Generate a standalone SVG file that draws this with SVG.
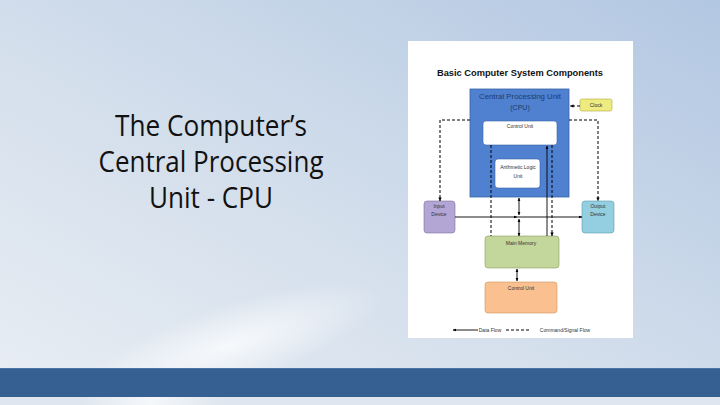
<svg xmlns="http://www.w3.org/2000/svg" width="720" height="405" viewBox="0 0 720 405">
<defs>
<linearGradient id="bg" x1="1" y1="0" x2="0" y2="1">
<stop offset="0" stop-color="#b2c7e2"/>
<stop offset="0.55" stop-color="#d4dfec"/>
<stop offset="1" stop-color="#e9eef4"/>
</linearGradient>
<radialGradient id="glow" cx="0.5" cy="0.5" r="0.5">
<stop offset="0" stop-color="#ffffff" stop-opacity="0.75"/>
<stop offset="1" stop-color="#ffffff" stop-opacity="0"/>
</radialGradient>
<linearGradient id="sweep" x1="0" y1="0" x2="1" y2="0">
<stop offset="0" stop-color="#ffffff" stop-opacity="0"/>
<stop offset="0.5" stop-color="#ffffff" stop-opacity="0.7"/>
<stop offset="1" stop-color="#ffffff" stop-opacity="0"/>
</linearGradient>
<marker id="ah" viewBox="0 0 10 10" refX="9" refY="5" markerWidth="4" markerHeight="4" orient="auto-start-reverse">
<path d="M0,1 L10,5 L0,9 z" fill="#000"/>
</marker>
<style>
.t{font-family:"Liberation Sans",Arial,sans-serif;fill:#333;text-anchor:middle;font-size:5px}
.cpu{font-family:"Liberation Sans",Arial,sans-serif;fill:#1e3a6e;text-anchor:middle;font-size:7px}
.dl{fill:none;stroke:#000;stroke-width:1;stroke-dasharray:3,2}
.sl{fill:none;stroke:#000;stroke-width:0.9}
</style>
</defs>
<rect width="720" height="405" fill="url(#bg)"/>
<ellipse cx="230" cy="345" rx="160" ry="40" transform="rotate(-18 230 345)" fill="url(#glow)"/>
<rect x="0" y="368" width="720" height="29" fill="#366092"/>
<rect x="0" y="368" width="720" height="1" fill="#4a74a6"/>
<rect x="0" y="397" width="720" height="8" fill="#dfe6ef"/>
<rect x="80" y="397" width="140" height="8" fill="url(#sweep)"/>

<g id="title">
<text x="211" y="136" font-family="'Open Sans','Liberation Sans',sans-serif" font-size="29" fill="#111" text-anchor="middle" textLength="192" lengthAdjust="spacingAndGlyphs">The Computer’s</text>
<text x="211" y="172" font-family="'Open Sans','Liberation Sans',sans-serif" font-size="29" fill="#111" text-anchor="middle" textLength="225" lengthAdjust="spacingAndGlyphs">Central Processing</text>
<text x="211" y="208" font-family="'Open Sans','Liberation Sans',sans-serif" font-size="29" fill="#111" text-anchor="middle" textLength="124" lengthAdjust="spacingAndGlyphs">Unit - CPU</text>
</g>

<rect x="408" y="41" width="225" height="297" fill="#ffffff"/>
<text x="520" y="76" font-family="'Liberation Sans',Arial,sans-serif" font-size="9.5" font-weight="bold" fill="#111" text-anchor="middle" textLength="166" lengthAdjust="spacingAndGlyphs">Basic Computer System Components</text>

<g id="cpu">
<rect x="470" y="89" width="99" height="108" fill="#4f81d0" stroke="#3a64a8" stroke-width="0.8"/>
<text class="cpu" x="520" y="99" textLength="82" lengthAdjust="spacingAndGlyphs">Central Processing Unit</text>
<text class="cpu" x="520" y="110">(CPU)</text>
</g>
<g id="control-unit">
<rect x="483" y="121" width="74" height="24" rx="3" fill="#fff" stroke="#3a64a8" stroke-width="0.6"/>
<text class="t" x="520" y="128">Control Unit</text>
</g>
<g id="alu">
<rect x="495" y="159" width="45" height="29" rx="3" fill="#fff" stroke="#3a64a8" stroke-width="0.6"/>
<text class="t" x="518" y="169">Arithmetic Logic</text>
<text class="t" x="518" y="178">Unit</text>
</g>
<g id="clock">
<rect x="580" y="99" width="32" height="12" rx="2" fill="#eeec80" stroke="#b0a840" stroke-width="0.6"/>
<text class="t" x="596" y="107">Clock</text>
</g>
<g id="input">
<rect x="424" y="201" width="31" height="32" rx="3" fill="#b3a5d4" stroke="#7d6ea0" stroke-width="0.6"/>
<text class="t" x="439" y="208">Input</text>
<text class="t" x="439" y="216">Device</text>
</g>
<g id="output">
<rect x="582" y="201" width="32" height="32" rx="3" fill="#93cfe0" stroke="#5a9aaf" stroke-width="0.6"/>
<text class="t" x="598" y="208">Output</text>
<text class="t" x="598" y="216">Device</text>
</g>
<g id="main-memory">
<rect x="485" y="236" width="74" height="32" rx="3" fill="#c3d69b" stroke="#89a060" stroke-width="0.6"/>
<text class="t" x="521" y="245">Main Memory</text>
</g>
<g id="control-unit-2">
<rect x="485" y="282" width="72" height="31" rx="3" fill="#fac08f" stroke="#cf9060" stroke-width="0.6"/>
<text class="t" x="521" y="290">Control Unit</text>
</g>

<g id="connectors">
<path class="dl" d="M580,106 L570,106" marker-end="url(#ah)"/>
<path class="dl" d="M470,120 L440,120 L440,201" marker-end="url(#ah)"/>
<path class="dl" d="M569,120 L598,120 L598,201" marker-end="url(#ah)"/>
<path class="sl" d="M455,217 L517,217" marker-end="url(#ah)"/>
<path class="sl" d="M517,217 L582,217" marker-end="url(#ah)"/>
<path class="sl" d="M519,198 L519,215" marker-start="url(#ah)" marker-end="url(#ah)"/>
<path class="sl" d="M519,219 L519,236" marker-start="url(#ah)" marker-end="url(#ah)"/>
<path class="dl" d="M491,145 L491,236"/>
<path class="sl" d="M547,236 L547,146" marker-end="url(#ah)"/>
<path class="dl" d="M552,145 L552,236" marker-end="url(#ah)"/>
<path class="sl" d="M517,269 L517,281" marker-start="url(#ah)" marker-end="url(#ah)"/>
<path class="sl" d="M453,330 L478,330" marker-start="url(#ah)"/>
<path class="dl" d="M506,330 L530,330"/>
</g>
<text class="t" x="490" y="332">Data Flow</text>
<text class="t" x="565" y="332">Command/Signal Flow</text>
</svg>
